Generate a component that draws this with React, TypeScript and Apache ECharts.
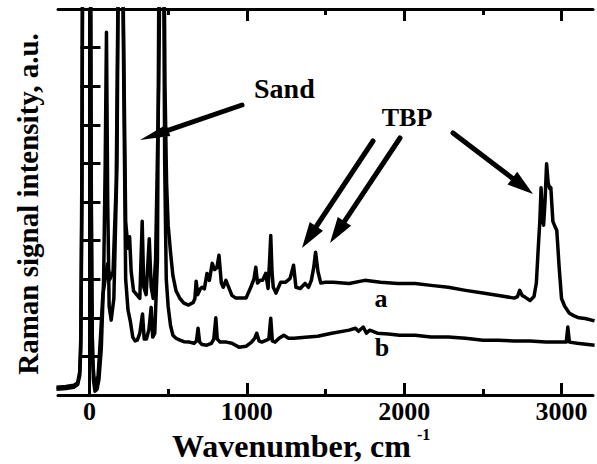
import React, { useEffect, useRef } from "react";
import * as echarts from "echarts";

// Curve a (sand + TBP), wavenumber (cm-1) and intensity (a.u.)
const waveA = [-210, -150, -100, -75, -62, -55, -48, -42, 5, 10, 14, 20, 30, 42, 55, 70, 85, 100, 115, 130, 150, 170, 185, 200, 215, 230, 245, 255, 265, 280, 300, 320, 335, 345, 360, 380, 392, 405, 420, 440, 455, 470, 480, 490, 500, 515, 530, 550, 575, 600, 630, 660, 670, 678, 688, 705, 715, 730, 747, 762, 780, 795, 810, 823, 838, 850, 867, 885, 905, 930, 960, 995, 1025, 1045, 1057, 1068, 1085, 1100, 1120, 1135, 1145, 1152, 1160, 1168, 1185, 1215, 1245, 1275, 1297, 1312, 1340, 1370, 1392, 1410, 1425, 1437, 1452, 1470, 1500, 1550, 1650, 1750, 1850, 1960, 2070, 2170, 2280, 2390, 2500, 2600, 2700, 2720, 2734, 2750, 2770, 2800, 2825, 2840, 2852, 2862, 2870, 2878, 2886, 2895, 2905, 2915, 2925, 2932, 2945, 2960, 2970, 2985, 3000, 3020, 3050, 3080, 3110, 3150, 3210];
const intensityA = [0.2, 0.22, 0.25, 0.32, 0.6, 1.5, 6, 14, 14, 6, 2.5, 0.9, 0.4, 0.3, 0.5, 1.5, 2.6, 3.0, 3.4, 3.0, 3.2, 5.5, 12, 14, 10, 4.5, 3.8, 4.1, 3.2, 2.7, 2.6, 2.5, 4.5, 2.8, 2.6, 4.05, 2.8, 2.5, 3.5, 8, 14, 14, 8, 5.5, 4.4, 3.7, 3.1, 2.7, 2.5, 2.38, 2.33, 2.4, 2.5, 2.95, 2.6, 2.75, 2.79, 2.75, 3.15, 2.97, 3.41, 3.25, 3.3, 3.62, 2.9, 2.79, 2.97, 2.79, 2.58, 2.51, 2.51, 2.51, 2.79, 3.0, 3.31, 2.9, 2.97, 2.97, 3.15, 2.76, 3.5, 4.13, 3.2, 2.79, 2.64, 2.92, 2.92, 3.02, 3.36, 2.79, 2.76, 2.89, 2.79, 2.97, 3.3, 3.7, 3.2, 2.9, 2.92, 2.92, 2.89, 2.97, 2.92, 2.89, 2.89, 2.84, 2.79, 2.71, 2.64, 2.58, 2.51, 2.55, 2.71, 2.58, 2.53, 2.45, 2.55, 2.9, 3.8, 4.5, 5.37, 4.6, 4.4, 5.0, 5.99, 5.5, 5.35, 5.37, 4.5, 4.35, 4.26, 3.3, 2.5, 2.3, 2.12, 2.05, 2.0, 1.98, 1.92];

// Curve b (sand)
const waveB = [-210, -150, -100, -75, -62, -55, -48, -42, 5, 12, 18, 25, 35, 48, 60, 75, 90, 100, 108, 116, 125, 138, 155, 175, 188, 205, 218, 230, 245, 260, 275, 290, 304, 320, 337, 348, 362, 378, 392, 402, 415, 432, 445, 468, 478, 488, 500, 515, 530, 550, 575, 600, 635, 665, 680, 690, 700, 715, 745, 775, 790, 803, 812, 830, 870, 905, 950, 995, 1030, 1050, 1063, 1078, 1095, 1125, 1140, 1152, 1162, 1180, 1205, 1235, 1265, 1300, 1390, 1450, 1540, 1650, 1690, 1710, 1740, 1760, 1780, 1830, 1900, 1970, 2070, 2170, 2280, 2390, 2500, 2600, 2700, 2800, 2900, 3000, 3030, 3040, 3050, 3100, 3210];
const intensityB = [0.15, 0.17, 0.2, 0.27, 0.5, 1.2, 5, 14, 14, 5, 1.5, 0.4, 0.1, 0.15, 0.4, 1.2, 3.0, 6, 9.4, 5, 2.3, 1.94, 2.5, 6, 14, 14, 8, 3.0, 2.2, 1.9, 1.5, 1.4, 1.42, 1.6, 2.1, 1.45, 1.45, 1.7, 2.27, 1.5, 1.6, 3.5, 14, 14, 6, 3.0, 2.3, 1.8, 1.55, 1.47, 1.42, 1.38, 1.37, 1.34, 1.4, 1.73, 1.37, 1.31, 1.29, 1.34, 1.45, 2.0, 1.45, 1.37, 1.37, 1.34, 1.24, 1.26, 1.37, 1.47, 1.6, 1.4, 1.37, 1.42, 1.45, 1.99, 1.4, 1.37, 1.47, 1.55, 1.47, 1.47, 1.5, 1.52, 1.6, 1.68, 1.73, 1.65, 1.76, 1.6, 1.68, 1.6, 1.58, 1.55, 1.55, 1.5, 1.5, 1.47, 1.42, 1.42, 1.4, 1.4, 1.37, 1.37, 1.37, 1.76, 1.37, 1.34, 1.29];

const xTickLabels = [0, 1000, 2000, 3000];
const xMinorTicks = [500, 1500, 2500];

const FONT = '"Liberation Serif", "Times New Roman", serif';

function zip(xs: number[], ys: number[]) {
  return xs.map((x, i) => [x, ys[i]]);
}

function arrow(x1: number, y1: number, x2: number, y2: number, headLen: number, headHalf: number, width: number) {
  const dx = x2 - x1, dy = y2 - y1;
  const L = Math.sqrt(dx * dx + dy * dy);
  const ux = dx / L, uy = dy / L;
  const bx = x2 - ux * headLen, by = y2 - uy * headLen;
  const px = -uy, py = ux;
  return [
    { type: "line", shape: { x1, y1, x2: bx + ux * 2, y2: by + uy * 2 }, style: { stroke: "#000", lineWidth: width, lineCap: "round" } },
    {
      type: "polygon",
      shape: { points: [[x2, y2], [bx + px * headHalf, by + py * headHalf], [bx - px * headHalf, by - py * headHalf]] },
      style: { fill: "#000" },
    },
  ];
}

export default function App() {
  const ref = useRef<HTMLDivElement>(null);
  useEffect(() => {
    document.body.style.margin = "0";
    const chart = echarts.init(ref.current!, null, { renderer: "svg" });
    const axisCommon = {
      type: "value",
      min: -200,
      max: 3200,
      splitLine: { show: false },
    };
    const lineStyle = { color: "#000", width: 3 };
    chart.setOption({
      animation: false,
      backgroundColor: "#fff",
      grid: { left: 58, right: 4, top: 9, bottom: 69 },
      xAxis: [
        {
          ...axisCommon,
          position: "bottom",
          axisLine: { show: true, lineStyle },
          axisTick: { show: true, inside: true, length: 12, lineStyle, customValues: xTickLabels },
          axisLabel: {
            show: true,
            customValues: xTickLabels,
            formatter: (v: number) => String(v),
            color: "#000",
            fontFamily: FONT,
            fontWeight: "bold",
            fontSize: 26,
            margin: 3,
          },
        },
        {
          ...axisCommon,
          position: "bottom",
          axisLine: { show: false },
          axisTick: { show: true, inside: true, length: 6, lineStyle, customValues: xMinorTicks },
          axisLabel: { show: false },
        },
        {
          ...axisCommon,
          position: "top",
          axisLine: { show: true, lineStyle },
          axisTick: { show: true, inside: true, length: 12, lineStyle, customValues: xTickLabels },
          axisLabel: { show: false },
        },
        {
          ...axisCommon,
          position: "top",
          axisLine: { show: false },
          axisTick: { show: true, inside: true, length: 6, lineStyle, customValues: xMinorTicks },
          axisLabel: { show: false },
        },
      ],
      yAxis: [
        {
          type: "value",
          position: "left",
          min: 0,
          max: 10,
          interval: 1,
          splitLine: { show: false },
          axisLine: { show: true, lineStyle },
          axisTick: { show: true, inside: true, length: 11, lineStyle },
          axisLabel: { show: false },
        },
        {
          type: "value",
          position: "right",
          min: 0,
          max: 10,
          interval: 1,
          splitLine: { show: false },
          axisLine: { show: true, lineStyle },
          axisTick: { show: true, inside: true, length: 9, lineStyle },
          axisLabel: { show: false },
        },
      ],
      series: [
        {
          name: "a",
          type: "line",
          data: zip(waveA, intensityA),
          showSymbol: false,
          clip: true,
          lineStyle: { color: "#000", width: 3.5, join: "round" },
        },
        {
          name: "b",
          type: "line",
          data: zip(waveB, intensityB),
          showSymbol: false,
          clip: true,
          lineStyle: { color: "#000", width: 3.5, join: "round" },
        },
      ],
      graphic: [
        {
          type: "text",
          x: 28,
          y: 204,
          rotation: Math.PI / 2,
          style: { text: "Raman signal intensity, a.u.", font: `bold 29px ${FONT}`, fill: "#000", textAlign: "center", textVerticalAlign: "middle" },
        },
        {
          type: "text",
          x: 172,
          y: 446,
          style: { text: "Wavenumber, cm", font: `bold 32px ${FONT}`, fill: "#000", textAlign: "left", textVerticalAlign: "middle" },
        },
        {
          type: "text",
          x: 417,
          y: 434,
          style: { text: "-1", font: `bold 16px ${FONT}`, fill: "#000", textAlign: "left", textVerticalAlign: "middle" },
        },
        {
          type: "text",
          x: 254,
          y: 88,
          style: { text: "Sand", font: `bold 28px ${FONT}`, fill: "#000", textAlign: "left", textVerticalAlign: "middle" },
        },
        {
          type: "text",
          x: 407,
          y: 117,
          style: { text: "TBP", font: `bold 26px ${FONT}`, fill: "#000", textAlign: "center", textVerticalAlign: "middle" },
        },
        {
          type: "text",
          x: 381,
          y: 298,
          style: { text: "a", font: `bold 26px ${FONT}`, fill: "#000", textAlign: "center", textVerticalAlign: "middle" },
        },
        {
          type: "text",
          x: 382,
          y: 347,
          style: { text: "b", font: `bold 26px ${FONT}`, fill: "#000", textAlign: "center", textVerticalAlign: "middle" },
        },
        ...arrow(242, 105, 140, 140, 30, 6, 5),
        ...arrow(373, 141, 302, 248, 26, 8, 5),
        ...arrow(400, 138, 330, 243, 26, 8, 5),
        ...arrow(453, 133, 533, 194, 26, 8, 5),
      ],
    });
    return () => chart.dispose();
  }, []);
  return <div ref={ref} style={{ width: 597, height: 464 }} />;
}
